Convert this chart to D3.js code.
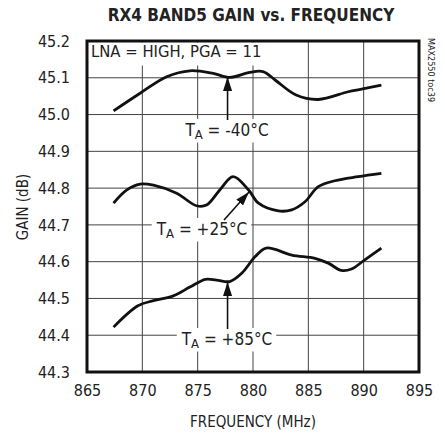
<!DOCTYPE html>
<html><head><meta charset="utf-8">
<script src="https://cdn.jsdelivr.net/npm/d3@7"></script>
<style>
body{margin:0;background:#fff;}
text{font-family:'DejaVu Sans',sans-serif;font-stretch:condensed;fill:#222;}
</style></head>
<body><svg id="c" width="445" height="433"></svg>
<script>
const xTicks = [865,870,875,880,885,890,895];
const yTicks = [44.3,44.4,44.5,44.6,44.7,44.8,44.9,45.0,45.1,45.2];
const freqM40 = [867.4,869.8,872.2,874.3,876.4,877.9,879.6,880.9,882.0,883.9,885.9,888.6,889.8,891.6];
const gainM40 = [45.01,45.058,45.103,45.119,45.112,45.101,45.114,45.117,45.094,45.053,45.041,45.062,45.069,45.08];
const freqP25 = [867.4,868.6,869.8,871.0,873.1,874.9,875.8,877.0,878.2,879.6,880.5,882.3,883.5,884.7,885.9,887.4,889.5,891.6];
const gainP25 = [44.759,44.795,44.811,44.808,44.786,44.752,44.754,44.795,44.831,44.795,44.759,44.738,44.741,44.763,44.804,44.82,44.831,44.84];
const freqP85 = [867.4,869.6,871.0,872.8,874.3,875.7,876.7,877.9,879.0,880.2,881.2,883.5,885.6,886.8,888.0,888.9,890.1,891.6];
const gainP85 = [44.422,44.48,44.494,44.507,44.531,44.552,44.55,44.546,44.569,44.614,44.637,44.618,44.609,44.596,44.576,44.58,44.605,44.637];

const svg = d3.select('#c');
const x = d3.scaleLinear().domain([865,895]).range([87,419]);
const y = d3.scaleLinear().domain([44.3,45.2]).range([372,41]);

// grid
svg.append('g').selectAll('line').data(xTicks.slice(1,-1)).join('line')
  .attr('x1',d=>x(d)).attr('x2',d=>x(d)).attr('y1',y(45.2)).attr('y2',y(44.3))
  .attr('stroke','#444').attr('stroke-width',1);
svg.append('g').selectAll('line').data(yTicks.slice(1,-1)).join('line')
  .attr('y1',d=>y(d)).attr('y2',d=>y(d)).attr('x1',x(865)).attr('x2',x(895))
  .attr('stroke','#444').attr('stroke-width',1);

// axes labels
const xa = svg.append('g').attr('transform',`translate(0,${y(44.3)})`)
  .call(d3.axisBottom(x).tickValues(xTicks).tickSize(0).tickPadding(13).tickFormat(d3.format('d')));
xa.select('.domain').remove();
xa.selectAll('text').attr('font-size',16).attr('fill','#222').attr('font-family',null);
const ya = svg.append('g').attr('transform',`translate(${x(865)},0)`)
  .call(d3.axisLeft(y).tickValues(yTicks).tickSize(0).tickPadding(17).tickFormat(d3.format('.1f')));
ya.select('.domain').remove();
ya.selectAll('text').attr('font-size',16).attr('fill','#222').attr('font-family',null);
svg.selectAll('.tick text').style('font-family',"'DejaVu Sans',sans-serif").style('font-stretch','condensed');

// curves
const line = d3.line().x(d=>x(d[0])).y(d=>y(d[1])).curve(d3.curveCatmullRom.alpha(0.5));
[[freqM40,gainM40],[freqP25,gainP25],[freqP85,gainP85]].forEach(([f,g])=>{
  svg.append('path').datum(f.map((v,i)=>[v,g[i]])).attr('d',line)
    .attr('fill','none').attr('stroke','#111').attr('stroke-width',2.8);
});

// annotations
svg.append('defs').append('marker').attr('id','ah').attr('viewBox','0 0 14 9')
  .attr('refX',14).attr('refY',4.5).attr('markerWidth',14).attr('markerHeight',9)
  .attr('markerUnits','userSpaceOnUse').attr('orient','auto')
  .append('path').attr('d','M0,0L14,4.5L0,9z').attr('fill','#111');
function label(cx,cy,sign,temp){
  const g = svg.append('g');
  const t = g.append('text').attr('x',cx).attr('y',cy).attr('text-anchor','middle')
    .attr('dominant-baseline','middle').attr('font-size',17);
  t.append('tspan').text('T');
  t.append('tspan').text('A').attr('font-size',13).attr('dy',4);
  t.append('tspan').text(' = '+sign+temp+'°C').attr('dy',-4);
  const b = t.node().getBBox();
  g.insert('rect',()=>t.node()).attr('x',b.x-4).attr('y',b.y-1).attr('width',b.width+8).attr('height',b.height+2).attr('fill','#fff');
}
function arrow(x1,y1,x2,y2){
  svg.append('line').attr('x1',x1).attr('y1',y1).attr('x2',x2).attr('y2',y2)
    .attr('stroke','#111').attr('stroke-width',1.6).attr('marker-end','url(#ah)');
}
label(227,131,'-',40);
arrow(x(877.7),120,x(877.7),77);
label(202,230,'+',25);
arrow(224,220,249,192);
label(227,340,'+',85);
arrow(x(877.7),329,x(877.7),282);

// LNA label
const lg = svg.append('g');
const lt = lg.append('text').attr('x',91).attr('y',52).attr('dominant-baseline','middle')
  .attr('font-size',16.5).text('LNA = HIGH, PGA = 11');
const lb = lt.node().getBBox();
lg.insert('rect',()=>lt.node()).attr('x',88).attr('y',lb.y+1).attr('width',lb.width+6).attr('height',lb.height+4).attr('fill','#fff');

// frame
svg.append('rect').attr('x',x(865)).attr('y',y(45.2)).attr('width',x(895)-x(865)).attr('height',y(44.3)-y(45.2))
  .attr('fill','none').attr('stroke','#111').attr('stroke-width',3);

// titles
svg.append('text').attr('x',251).attr('y',21).attr('text-anchor','middle').attr('font-size',17)
  .attr('font-weight','bold').text('RX4 BAND5 GAIN vs. FREQUENCY');
svg.append('text').attr('x',253).attr('y',422).attr('text-anchor','middle').attr('dominant-baseline','middle')
  .attr('font-size',15).text('FREQUENCY (MHz)');
svg.append('text').attr('transform','translate(23,207) rotate(-90)').attr('text-anchor','middle')
  .attr('dominant-baseline','middle').attr('font-size',15).text('GAIN (dB)');
svg.append('text').attr('transform','translate(430,70) rotate(90)').attr('text-anchor','middle')
  .attr('dominant-baseline','middle').attr('font-size',9).text('MAX2550 toc39');
</script></body></html>
